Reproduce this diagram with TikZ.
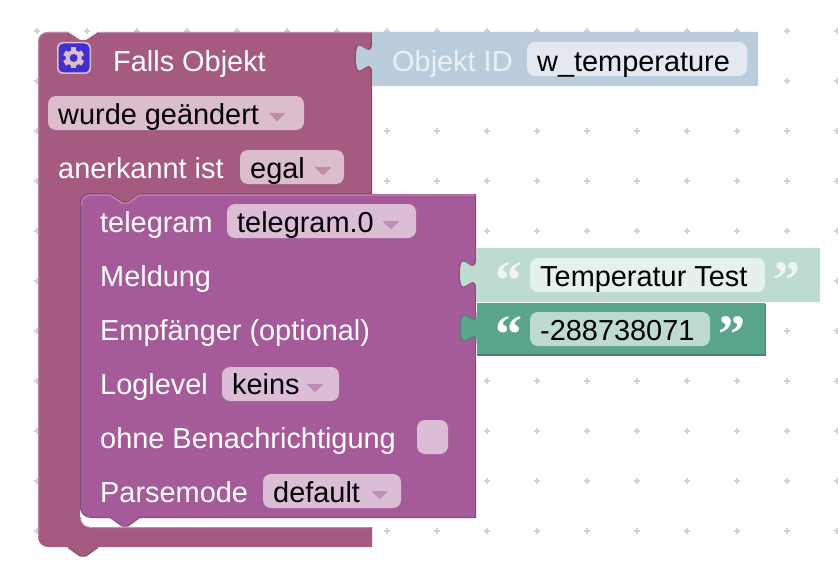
\documentclass[tikz,border=0pt]{standalone}
\usepackage{fontspec}
\setmainfont{Liberation Sans}
\newfontfamily\quotefont{Liberation Serif}[BoldFont={Liberation Serif Bold}]
\definecolor{ifblock}{HTML}{A55B80}
\definecolor{ifdark}{HTML}{844966}
\definecolor{iflight}{HTML}{C08CA6}
\definecolor{iffield}{HTML}{DBBDCC}
\definecolor{tgblock}{HTML}{A55B99}
\definecolor{tgdark}{HTML}{844A7A}
\definecolor{tglight}{HTML}{C08CB8}
\definecolor{tgfield}{HTML}{DBBDD6}
\definecolor{idblock}{HTML}{BBCCDC}
\definecolor{idfield}{HTML}{E4E9F1}
\definecolor{idtext}{HTML}{EBF0F4}
\definecolor{strblock}{HTML}{BEDBD1}
\definecolor{strfield}{HTML}{E5F1ED}
\definecolor{strquote}{HTML}{EEF6F3}
\definecolor{numblock}{HTML}{5BA58C}
\definecolor{numdark}{HTML}{497F6E}
\definecolor{numfield}{HTML}{BDDBD1}
\definecolor{gearblue}{HTML}{4130CC}
\definecolor{gridplus}{HTML}{D2D2D2}
\newcommand{\puzzletab}[2]{.. controls (#1,#2+20) and (#1-16,#2-16) .. (#1-16,#2+15)
  .. controls (#1-16,#2+46) and (#1,#2+10) .. (#1,#2+30)}
\tikzset{
  lbl/.style={anchor=base west,inner sep=0pt,text=white,font=\fontsize{28.9}{32}\selectfont},
  val/.style={lbl,text=black},
  quotemark/.style={anchor=base west,inner sep=0pt,text=white,font=\quotefont\bfseries\fontsize{54}{54}\selectfont},
  arrowhead/.style={line join=round,line width=1pt},
  field/.style={rounded corners=8pt},
  edge/.style={line width=1pt}
}
\begin{document}
\begin{tikzpicture}[x=1pt,y=-1pt]
  \useasboundingbox (0,0) rectangle (838,578);
  \foreach \i in {37,87,...,837}
    \foreach \j in {31,81,...,531} {
      \draw[gridplus,line width=1.3pt] (\i-3,\j) -- (\i+3,\j) (\i,\j-3) -- (\i,\j+3);
    }
  \fill[ifblock] (68,32) -- (80,40) -- (86,40) -- (98,32) -- (372,32) -- (372,193)
    -- (140,193) -- (128,201) -- (122,201) -- (110,193) -- (92,193) -- (92,206) -- (80,206) -- (80,400)
    [rounded corners=10pt] -- (80,527) -- (200,527) [sharp corners] -- (372,527) -- (372,547) -- (98,547)
    -- (86,556) -- (80,556) -- (68,547) -- (60,547) [rounded corners=10pt] -- (38,547) -- (38,32) -- (60,32) [sharp corners] -- cycle;
  \draw[iflight,edge] (68,32.5) -- (48,32.5) .. controls (42,32.5) and (38.5,36) .. (38.5,42) -- (38.5,537);
  \draw[iflight,edge] (80.5,517) .. controls (80.5,523) and (84,527.5) .. (90,527.5) -- (371,527.5);
  \draw[iflight,edge] (98,32.5) -- (372,32.5);
  \draw[ifdark,edge] (371.5,33) -- (371.5,193);
  \draw[ifdark,edge] (68,547.5) -- (80,556) -- (86,556) -- (98,547.5);
  \fill[tgblock] (110,194) -- (122,202) -- (128,202) -- (140,194) -- (475,194) -- (475,517)
    -- (140,517) -- (128,526) -- (122,526) -- (110,517) -- (100,517)
    [rounded corners=10pt] -- (80,517) -- (80,194) -- (100,194) [sharp corners] -- cycle;
  \draw[tgdark,edge] (475.5,194) -- (475.5,517.5) -- (140,517.5) -- (128,526) -- (122,526) -- (110,517.5);
  \draw[tgdark,edge] (110,517.5) -- (91,517.5) .. controls (85,517.5) and (80.5,513) .. (80.5,507) -- (80.5,204);
  \draw[ifdark,edge] (80,204) .. controls (80,198) and (84,193.5) .. (90,193.5) -- (110,193.5) -- (122,201.5) -- (128,201.5) -- (140,193.5) -- (372,193.5);
  \draw[tglight,edge] (81.5,205) .. controls (81.5,199) and (85,195) .. (91,195) -- (110,195) -- (122,203) -- (128,203) -- (140,195) -- (475,195);
  \fill[idblock] (372,43) \puzzletab{372}{43} -- (372,86) -- (758,86) -- (758,32) -- (372,32) -- cycle;
  \draw[ifdark,edge] (371,43) \puzzletab{371}{43};
  \fill[strblock] (476,259) \puzzletab{476}{259} -- (476,302) -- (820,302) -- (820,248) -- (476,248) -- cycle;
  \draw[tgdark,edge] (475,259) \puzzletab{475}{259};
  \fill[numblock] (477,313) \puzzletab{477}{313} -- (477,355) -- (765,355) -- (765,303) -- (477,303) -- cycle;
  \draw[numdark,edge] (476,313) \puzzletab{476}{313};
  \draw[numdark,line width=1.2pt] (477,355) -- (765.5,355) -- (765.5,304);
  \fill[iffield,rounded corners=6pt] (57,42) rectangle (91,74);
  \fill[gearblue,rounded corners=5pt] (58.5,43.5) rectangle (89.5,72.5);
  \foreach \a in {0,60,120} {
    \fill[iffield,shift={(73.7,58)},rotate=\a] (-2.7,-10.5) rectangle (2.7,10.5);
  }
  \fill[iffield] (73.7,58) circle[radius=8pt];
  \fill[gearblue] (73.7,58) circle[radius=4pt];
  \fill[iffield,field] (48,96) rectangle (304,130);
  \fill[iffield,field] (240,150) rectangle (344,184);
  \fill[tgfield,field] (227,204) rectangle (416,238);
  \fill[tgfield,field] (222,367) rectangle (339,401);
  \fill[tgfield,field] (417,420) rectangle (448,454);
  \fill[tgfield,field] (263,474) rectangle (401,508);
  \fill[idfield,field] (527,42) rectangle (747,76);
  \fill[strfield,field] (530,258) rectangle (765,292);
  \fill[numfield,field] (530,312) rectangle (710,346);
  \fill[iflight,draw=iflight,arrowhead] (270,113.5) -- (284.5,113.5) -- (277.2,120.5) -- cycle;
  \fill[iflight,draw=iflight,arrowhead] (315.5,167.5) -- (330.5,167.5) -- (323,174.5) -- cycle;
  \fill[tglight,draw=tglight,arrowhead] (383.5,221.5) -- (398.5,221.5) -- (391,228.5) -- cycle;
  \fill[tglight,draw=tglight,arrowhead] (307.5,384.5) -- (322.5,384.5) -- (315,391.5) -- cycle;
  \fill[tglight,draw=tglight,arrowhead] (372.5,491.5) -- (387,491.5) -- (379.7,498.5) -- cycle;
  \node[lbl] (falls) at (113,71) {Falls Objekt};
  \node[val] (changed) at (58,124) {wurde geändert};
  \node[lbl] (ack) at (58,178) {anerkannt ist};
  \node[val] (egal) at (250,178) {egal};
  \node[lbl] (telegram) at (100,232) {telegram};
  \node[val] (instance) at (237,232) {telegram.0};
  \node[lbl] (message) at (100,286) {Meldung};
  \node[lbl] (receiver) at (100,340) {Empfänger (optional)};
  \node[lbl] (loglevel) at (100,394) {Loglevel};
  \node[val] (keins) at (232,394) {keins};
  \node[lbl] (silent) at (100,448) {ohne Benachrichtigung};
  \node[lbl] (parsemode) at (100,502) {Parsemode};
  \node[val] (default) at (273,502) {default};
  \node[lbl,text=idtext] (objid) at (392,71) {Objekt ID};
  \node[val] (wtemp) at (537,71) {w\_temperature};
  \node[val] (temptest) at (540,286) {Temperatur Test};
  \node[val] (number) at (540,340) {-288738071};
  \node[quotemark,text=strquote] (open1) at (495,298) {“};
  \node[quotemark,text=strquote] (close1) at (773,298) {”};
  \node[quotemark] (open2) at (495,352) {“};
  \node[quotemark] (close2) at (718,352) {”};
\end{tikzpicture}
\end{document}
